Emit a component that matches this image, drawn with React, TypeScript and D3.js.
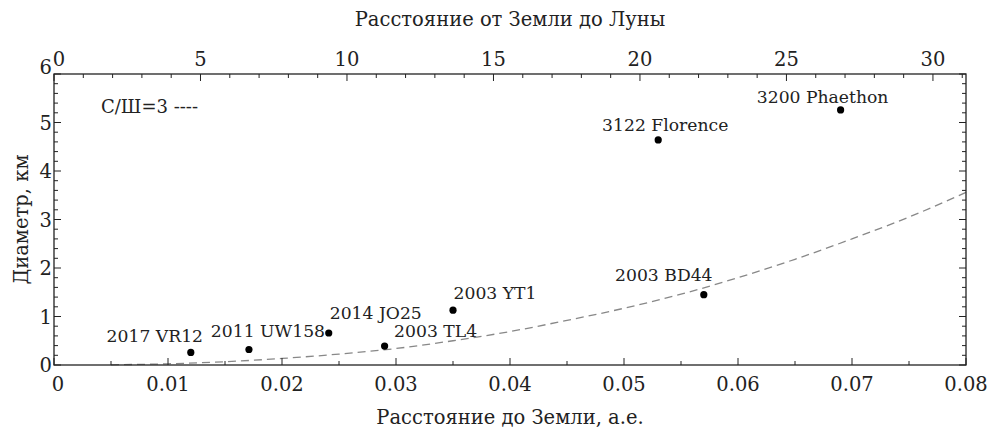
import React from "react";
import * as d3 from "d3";

const asteroidNames = ["2017 VR12", "2011 UW158", "2014 JO25", "2003 TL4", "2003 YT1", "2003 BD44", "3122 Florence", "3200 Phaethon"];
const distanceAU = [0.012, 0.0171, 0.0241, 0.029, 0.035, 0.057, 0.053, 0.069];
const diameterKm = [0.26, 0.32, 0.66, 0.39, 1.13, 1.45, 4.64, 5.26];

// SNR = 3 curve
const curveX = [0.005, 0.01, 0.015, 0.02, 0.025, 0.03, 0.035, 0.04, 0.045, 0.05, 0.055, 0.06, 0.065, 0.07, 0.075, 0.08];
const curveY = [0.004, 0.025, 0.068, 0.135, 0.225, 0.34, 0.5, 0.69, 0.92, 1.17, 1.46, 1.8, 2.18, 2.6, 3.05, 3.56];

const bottomTicks = [0, 0.01, 0.02, 0.03, 0.04, 0.05, 0.06, 0.07, 0.08];
const topTicks = [0, 5, 10, 15, 20, 25, 30];
const leftTicks = [0, 1, 2, 3, 4, 5, 6];
const LUNAR_AU = 0.00257;

// label placement (style): offset of label center / baseline from dot
const labelDx = [-36, 19, 47, 51, 42, -40, 7, -18];
const labelDy = [-10, -12, -14, -9, -11, -14, -9, -7];

const W = 997, H = 433;
const M = { left: 54, right: 31, top: 74, bottom: 68 };
const FONT = "'DejaVu Serif', serif";
const INK = "#222";

export default function App() {
  const x = d3.scaleLinear().domain([0, 0.08]).range([M.left, W - M.right]);
  const xTop = d3.scaleLinear().domain([0, 0.08 / LUNAR_AU]).range([M.left, W - M.right]);
  const y = d3.scaleLinear().domain([0, 6]).range([H - M.bottom, M.top]);
  const x0 = M.left, x1 = W - M.right, y0 = H - M.bottom, y1 = M.top;

  const line = d3
    .line<number>()
    .x((_, i) => x(curveX[i]))
    .y((_, i) => y(curveY[i]))
    .curve(d3.curveMonotoneX);

  const bottomMinor = d3.range(0, 0.0801, 0.005);
  const topMinor = d3.range(0, 31.1, 1);
  const leftMinor = d3.range(0, 6.001, 0.2);

  return (
    <svg width={W} height={H} style={{ position: "absolute", left: 0, top: 0, background: "#fff" }} fontFamily={FONT}>
      <rect x={0} y={0} width={W} height={H} fill="#fff" />
      {/* curve */}
      <path d={line(curveX) || ""} fill="none" stroke="#888" strokeWidth={1.3} strokeDasharray="8,5" />

      {/* ticks */}
      <g stroke={INK} strokeWidth={1}>
        {bottomMinor.map((t, i) => {
          const major = i % 2 === 0;
          const len = major ? 7 : 4;
          return <line key={"b" + i} x1={x(t)} x2={x(t)} y1={y0} y2={y0 - len} />;
        })}
        {topMinor.map((t, i) => {
          const major = i % 5 === 0;
          const len = major ? 7 : 4;
          return <line key={"t" + i} x1={xTop(t)} x2={xTop(t)} y1={y1} y2={y1 + len} />;
        })}
        {leftMinor.map((t, i) => {
          const major = i % 5 === 0;
          const len = major ? 7 : 4;
          return (
            <g key={"l" + i}>
              <line x1={x0} x2={x0 + len} y1={y(t)} y2={y(t)} />
              <line x1={x1} x2={x1 - len} y1={y(t)} y2={y(t)} />
            </g>
          );
        })}
      </g>

      {/* frame */}
      <rect x={x0} y={y1} width={x1 - x0} height={y0 - y1} fill="none" stroke={INK} strokeWidth={1.3} />

      {/* tick labels */}
      <g fill={INK} fontSize={19.5}>
        {bottomTicks.map((t) => (
          <text key={"bl" + t} x={x(t) + (t === 0 ? 4 : 0)} y={391} textAnchor="middle">
            {t === 0 ? "0" : t.toFixed(2)}
          </text>
        ))}
        {topTicks.map((t) => (
          <text key={"tl" + t} x={xTop(t) + (t === 0 ? 5 : 0)} y={66} textAnchor="middle">
            {t}
          </text>
        ))}
        {leftTicks.map((t) => (
          <text key={"ll" + t} x={x0 - 2} y={y(t) + (t === 6 ? 0 : 7)} textAnchor="end">
            {t}
          </text>
        ))}
      </g>

      {/* axis titles */}
      <text x={(x0 + x1) / 2} y={26} textAnchor="middle" fontSize={19.5} fill={INK}>
        Расстояние от Земли до Луны
      </text>
      <text x={(x0 + x1) / 2} y={424} textAnchor="middle" fontSize={19.5} fill={INK}>
        Расстояние до Земли, а.е.
      </text>
      <text transform={`translate(28,${(y0 + y1) / 2}) rotate(-90)`} textAnchor="middle" fontSize={19.5} fill={INK}>
        Диаметр, км
      </text>

      {/* legend */}
      <text x={101} y={113} fontSize={18} fill={INK}>
        С/Ш=3 ----
      </text>

      {/* points & labels */}
      {asteroidNames.map((n, i) => (
        <g key={n}>
          <circle cx={x(distanceAU[i])} cy={y(diameterKm[i])} r={3.6} fill="#000" />
          <text
            x={x(distanceAU[i]) + labelDx[i]}
            y={y(diameterKm[i]) + labelDy[i]}
            textAnchor="middle"
            fontSize={17.2}
            fill={INK}
          >
            {n}
          </text>
        </g>
      ))}
    </svg>
  );
}
